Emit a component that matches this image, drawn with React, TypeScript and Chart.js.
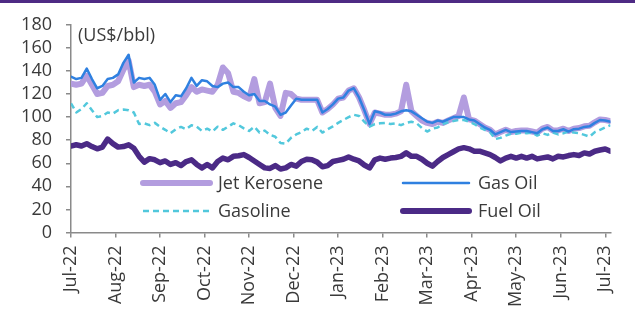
import React, { useEffect, useRef } from 'react';
import { Chart, registerables } from 'chart.js';

Chart.register(...registerables);

// ---- Data ----
const monthLabels = [
  'Jul-22', 'Aug-22', 'Sep-22', 'Oct-22', 'Nov-22', 'Dec-22',
  'Jan-23', 'Feb-23', 'Mar-23', 'Apr-23', 'May-23', 'Jun-23', 'Jul-23',
];
const POINTS_PER_MONTH = 8.5;
const yTickValues = [0, 20, 40, 60, 80, 100, 120, 140, 160, 180];
const unitLabel = '(US$/bbl)';
const seriesNames = ['Jet Kerosene', 'Gas Oil', 'Gasoline', 'Fuel Oil'];

const jetKerosene = [
  129, 128, 129, 136, 128, 120, 121, 127, 128, 131,
  141, 149, 126, 128, 127, 128, 122, 111, 114, 108,
  112, 113, 119, 126, 122, 124, 123, 122, 128, 143,
  138, 122, 121, 118, 116, 133, 112, 113, 129, 108,
  101, 121, 120, 116, 115, 115, 115, 115, 104, 107,
  111, 116, 117, 123, 125, 117, 106, 94, 104, 103,
  102, 102, 103, 105, 128, 105, 101, 97, 95, 94,
  96, 95, 97, 99, 101, 117, 98, 97, 94, 91,
  89, 85, 87, 89, 87, 88, 88.5, 88.5, 87.5, 86.5,
  90, 91.5, 88.5, 88.5, 90, 88, 90, 90.5, 92, 92.5,
  95.5, 98, 97.5, 96.5,
];

const gasOil = [
  135, 133, 134, 142, 133, 125, 127, 133, 134, 137,
  147, 154, 130, 134, 133, 134, 128, 115, 120, 113,
  119, 118, 125, 134, 127, 132, 131, 127, 126, 129,
  130, 126, 126, 122, 119, 120, 114, 114, 111, 109,
  102, 104, 110, 116, 115, 115, 115, 115, 104, 107,
  111, 116, 117, 123, 125, 117, 106, 94, 105, 104,
  102, 102, 103, 105, 106, 105, 102, 99, 96, 95,
  97, 96, 98, 100, 100, 100, 98, 97, 94, 91,
  89, 85, 87, 89, 87, 87.5, 88, 88, 87, 86,
  89.5, 91, 88, 88, 89.5, 87.5, 89.5, 90, 91.5, 92,
  95, 97.5, 97, 96,
];

const gasoline = [
  112, 104, 107, 112, 106, 100, 101, 104, 103, 106,
  106.5, 106, 104, 94, 94.6, 93, 95, 91.7, 89, 86,
  89.5, 91.5, 89.5, 93, 91.7, 88, 90, 87.5, 91.7, 89,
  91.7, 94.6, 93, 90.3, 88, 91.7, 86.6, 88.3, 84.6, 83,
  77.5, 77, 82, 85, 87, 90, 88, 91.5, 86.6, 89.5,
  92, 95, 97.5, 100, 102, 101, 96, 91.7, 94, 94.6,
  95, 94, 94.6, 93, 95, 96, 94.6, 90.5, 87.5, 90,
  91, 94, 95.5, 96.5, 97.5, 97.5, 96, 94, 91, 89,
  87, 81, 82, 84, 85.5, 85.5, 86.6, 86, 86.6, 84,
  86, 84.6, 86.6, 85, 86, 87.5, 86.6, 86, 84.6, 83,
  87, 89, 91, 93,
];

const fuelOil = [
  75, 76, 75, 77, 74.5, 72.5, 74, 81, 77, 74,
  74.5, 76, 73, 66, 61, 64, 63, 60.5, 62, 59,
  60.5, 58, 61.5, 63, 59, 56, 59, 56, 61.5, 64.5,
  63, 66, 66.5, 67.5, 65, 62, 59, 56, 55.5, 58,
  55, 56, 59, 57.5, 61.5, 63.5, 63, 61, 57, 58,
  61.5, 62.5, 63.5, 65.5, 63.5, 62, 58.5, 56, 63, 64.5,
  63.5, 64.5, 65, 66, 69, 66, 66, 63.5, 60, 57.5,
  61.5, 65, 67.5, 70, 72.5, 73.5, 72.5, 70.5, 70.5, 69,
  67.5, 65, 62, 64.5, 66, 64.5, 66, 64.5, 66, 63.8,
  64.7, 65.5, 63.8, 66, 65.5, 66.7, 67.5, 66.7, 69, 68,
  70.4, 71.5, 72.4, 70.4,
];

// ---- Styles ----
const FONT = "'Open Sans', sans-serif";
const TEXT_COLOR = '#3a3a3a';
const AXIS_COLOR = '#8a8a8a';
const COLORS = {
  jet: '#b39ddf',
  gasOil: '#2f80e0',
  gasoline: '#52c8dc',
  fuel: '#4b2a86',
};

const toXY = (arr: number[]) => arr.map((v, k) => ({ x: k, y: v }));

const overlayPlugin = {
  id: 'overlay',
  afterDraw(chart: any) {
    const ctx = chart.ctx as CanvasRenderingContext2D;
    const area = chart.chartArea;
    ctx.save();
    ctx.fillStyle = TEXT_COLOR;
    ctx.font = `18px ${FONT}`;
    ctx.textBaseline = 'middle';
    ctx.textAlign = 'left';
    ctx.fillText(unitLabel, area.left + 7, area.top + 11);

    const items = [
      { name: seriesNames[0], color: COLORS.jet, width: 6, dash: [] as number[], x0: 143, x1: 210, ty: 183, tx: 218 },
      { name: seriesNames[1], color: COLORS.gasOil, width: 2.5, dash: [], x0: 403, x1: 469, ty: 183, tx: 478 },
      { name: seriesNames[2], color: COLORS.gasoline, width: 2.5, dash: [6, 4], x0: 143, x1: 210, ty: 211, tx: 218 },
      { name: seriesNames[3], color: COLORS.fuel, width: 6, dash: [], x0: 403, x1: 469, ty: 211, tx: 478 },
    ];
    for (const it of items) {
      ctx.beginPath();
      ctx.setLineDash(it.dash);
      ctx.lineCap = it.dash.length ? 'butt' : 'round';
      ctx.strokeStyle = it.color;
      ctx.lineWidth = it.width;
      ctx.moveTo(it.x0, it.ty);
      ctx.lineTo(it.x1, it.ty);
      ctx.stroke();
      ctx.setLineDash([]);
      ctx.fillStyle = TEXT_COLOR;
      ctx.fillText(it.name, it.tx, it.ty + 1);
    }
    ctx.restore();
  },
};

export default function App() {
  const canvasRef = useRef<HTMLCanvasElement | null>(null);

  useEffect(() => {
    if (!canvasRef.current) return;
    const lineBase = {
      pointRadius: 0,
      pointHoverRadius: 0,
      tension: 0,
      borderJoinStyle: 'round' as const,
      borderCapStyle: 'round' as const,
      fill: false,
    };
    const chart = new Chart(canvasRef.current, {
      type: 'line',
      data: {
        datasets: [
          { ...lineBase, label: seriesNames[0], data: toXY(jetKerosene), borderColor: COLORS.jet, borderWidth: 6, order: 4 },
          { ...lineBase, label: seriesNames[1], data: toXY(gasOil), borderColor: COLORS.gasOil, borderWidth: 2.5, order: 2 },
          { ...lineBase, label: seriesNames[2], data: toXY(gasoline), borderColor: COLORS.gasoline, borderWidth: 2.5, borderDash: [6, 4], borderCapStyle: 'butt', order: 3 },
          { ...lineBase, label: seriesNames[3], data: toXY(fuelOil), borderColor: COLORS.fuel, borderWidth: 5.5, order: 1 },
        ],
      },
      options: {
        animation: false,
        responsive: false,
        events: [],
        layout: { padding: { top: 22, right: 15, left: 0, bottom: 0 } },
        plugins: { legend: { display: false }, tooltip: { enabled: false } },
        scales: {
          x: {
            type: 'linear',
            min: 0,
            max: jetKerosene.length - 1,
            afterBuildTicks: (scale: any) => {
              scale.ticks = monthLabels.map((_, i) => ({ value: i * POINTS_PER_MONTH }));
            },
            afterFit: (scale: any) => {
              scale.height = 82.5;
            },
            ticks: {
              autoSkip: false,
              minRotation: 90,
              maxRotation: 90,
              padding: 8,
              color: TEXT_COLOR,
              font: { family: FONT, size: 18 },
              callback: (_v: any, i: number) => monthLabels[i],
            },
            grid: { display: true, drawOnChartArea: false, drawTicks: true, tickLength: 5, color: AXIS_COLOR, lineWidth: 1.5 },
            border: { display: true, color: AXIS_COLOR, width: 1.5 },
          },
          y: {
            min: 0,
            max: 180,
            afterBuildTicks: (scale: any) => {
              scale.ticks = yTickValues.map((v) => ({ value: v }));
            },
            afterFit: (scale: any) => {
              scale.width = 71;
            },
            ticks: {
              autoSkip: false,
              padding: 14,
              color: TEXT_COLOR,
              font: { family: FONT, size: 18 },
              callback: (v: any) => String(v),
            },
            grid: { display: true, drawOnChartArea: false, drawTicks: true, tickLength: 5, color: AXIS_COLOR, lineWidth: 1.5 },
            border: { display: true, color: AXIS_COLOR, width: 1.5 },
          },
        },
      },
      plugins: [overlayPlugin],
    });
    return () => chart.destroy();
  }, []);

  return (
    <div style={{ position: 'absolute', left: 0, top: 0, width: 635, height: 315, background: '#fff' }}>
      <canvas ref={canvasRef} width={635} height={315} style={{ display: 'block' }} />
      <div style={{ position: 'absolute', left: 0, top: 0, width: 635, height: 3, background: '#4e2a84' }} />
    </div>
  );
}
